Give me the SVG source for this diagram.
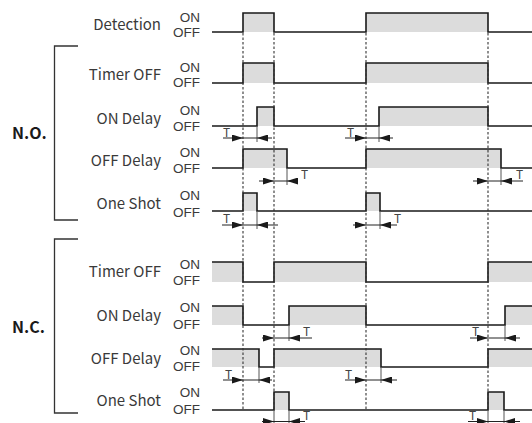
<svg xmlns="http://www.w3.org/2000/svg" width="532" height="423" viewBox="0 0 532 423">
<style>
text{font-family:"Noto Sans CJK KR","Noto Sans",sans-serif;fill:#3a3a3a}
.lbl{font-size:15px;text-anchor:end}
.st{font-family:"Liberation Sans",Arial,sans-serif;font-size:13.5px;text-anchor:end}
.grp{font-size:16px;font-weight:bold;fill:#1a1a1a}
.tl{font-size:12px;fill:#444}
.hi{fill:#dcdcdc}
.wave{fill:none;stroke:#1a1a1a;stroke-width:1.6}
.br{fill:none;stroke:#333;stroke-width:1.3}
.dash{stroke:#333;stroke-width:1.1;stroke-dasharray:2.5 2;fill:none}
.dim{stroke:#222;stroke-width:1;fill:none}
.arr{stroke:#222;stroke-width:1;fill:none;marker-end:url(#ah)}
.ext{stroke:#555;stroke-width:1;fill:none}
</style>
<defs>
<marker id="ah" viewBox="0 0 11 7" refX="11" refY="3.5" markerWidth="11" markerHeight="7" markerUnits="userSpaceOnUse" orient="auto">
<path d="M0,0 L11,3.5 L0,7 z" fill="#1a1a1a"/>
</marker>
</defs>

<g id="bracket-no">
<path class="br" d="M78,46 H54.5 V220 H78"/>
<text class="grp" x="12" y="138.5">N.O.</text>
</g>
<g id="bracket-nc">
<path class="br" d="M78,239 H54.5 V413 H78"/>
<text class="grp" x="12" y="333">N.C.</text>
</g>

<g id="row-detection">
<text class="lbl" x="161" y="29.5">Detection</text>
<text class="st" x="200" y="21.5">ON</text>
<text class="st" x="200" y="37">OFF</text>
<rect class="hi" x="243" y="13" width="31" height="19"/>
<rect class="hi" x="366" y="13" width="122" height="19"/>
<path class="wave" d="M212,32 H243 V13 H274 V32 H366 V13 H488 V32 H532"/>
</g>

<g id="row-no-timer-off">
<text class="lbl" x="161" y="80">Timer OFF</text>
<text class="st" x="200" y="71.5">ON</text>
<text class="st" x="200" y="87">OFF</text>
<rect class="hi" x="243" y="63" width="31" height="20"/>
<rect class="hi" x="366" y="63" width="122" height="20"/>
<path class="wave" d="M212,83 H243 V63 H274 V83 H366 V63 H488 V83 H532"/>
</g>

<g id="row-no-on-delay">
<text class="lbl" x="161" y="124">ON Delay</text>
<text class="st" x="200" y="115">ON</text>
<text class="st" x="200" y="131">OFF</text>
<rect class="hi" x="257" y="107" width="17" height="19"/>
<rect class="hi" x="379" y="107" width="109" height="19"/>
<path class="wave" d="M212,126 H257 V107 H274 V126 H379 V107 H488 V126 H532"/>
</g>

<g id="row-no-off-delay">
<text class="lbl" x="161" y="166">OFF Delay</text>
<text class="st" x="200" y="157">ON</text>
<text class="st" x="200" y="173">OFF</text>
<rect class="hi" x="243" y="149" width="44" height="19"/>
<rect class="hi" x="366" y="149" width="135" height="19"/>
<path class="wave" d="M212,168 H243 V149 H287 V168 H366 V149 H501 V168 H532"/>
</g>

<g id="row-no-one-shot">
<text class="lbl" x="161" y="209">One Shot</text>
<text class="st" x="200" y="200">ON</text>
<text class="st" x="200" y="216.5">OFF</text>
<rect class="hi" x="243" y="193" width="14" height="18"/>
<rect class="hi" x="366" y="193" width="14" height="18"/>
<path class="wave" d="M212,211 H243 V193 H257 V211 H366 V193 H380 V211 H532"/>
</g>

<g id="row-nc-timer-off">
<text class="lbl" x="161" y="277">Timer OFF</text>
<text class="st" x="200" y="268.5">ON</text>
<text class="st" x="200" y="285">OFF</text>
<rect class="hi" x="212" y="262" width="31" height="20"/>
<rect class="hi" x="274" y="262" width="92" height="20"/>
<rect class="hi" x="488" y="262" width="44" height="20"/>
<path class="wave" d="M212,262 H243 V282 H274 V262 H366 V282 H488 V262 H532"/>
</g>

<g id="row-nc-on-delay">
<text class="lbl" x="161" y="321">ON Delay</text>
<text class="st" x="200" y="312">ON</text>
<text class="st" x="200" y="328.5">OFF</text>
<rect class="hi" x="212" y="306" width="31" height="19"/>
<rect class="hi" x="289" y="306" width="77" height="19"/>
<rect class="hi" x="505" y="306" width="27" height="19"/>
<path class="wave" d="M212,306 H243 V325 H289 V306 H366 V325 H505 V306 H532"/>
</g>

<g id="row-nc-off-delay">
<text class="lbl" x="161" y="363.5">OFF Delay</text>
<text class="st" x="200" y="355">ON</text>
<text class="st" x="200" y="370.5">OFF</text>
<rect class="hi" x="212" y="349" width="47" height="18"/>
<rect class="hi" x="274" y="349" width="107" height="18"/>
<rect class="hi" x="488" y="349" width="44" height="18"/>
<path class="wave" d="M212,349 H259 V367 H274 V349 H381 V367 H488 V349 H532"/>
</g>

<g id="row-nc-one-shot">
<text class="lbl" x="161" y="406">One Shot</text>
<text class="st" x="200" y="397">ON</text>
<text class="st" x="200" y="414">OFF</text>
<rect class="hi" x="274" y="392" width="15" height="18"/>
<rect class="hi" x="488" y="392" width="16" height="18"/>
<path class="wave" d="M212,410 H274 V392 H289 V410 H488 V392 H504 V410 H532"/>
</g>

<g id="connectors">
<path class="dash" d="M243,33 V410 M274,33 V410 M366,33 V410 M488,33 V410"/>
<path class="ext" d="M257,126 V142 M379,126 V142 M287,168 V185 M501,168 V185 M257,211 V229 M380,211 V229 M289,325 V341 M505,325 V341 M259,367 V383 M381,367 V383 M289,410 V423 M504,410 V423 M274,410 V423 M488,410 V423"/>
<path class="arr" d="M223,138 H243"/><path class="arr" d="M272,138 H257"/><path class="dim" d="M243,138 H257"/>
<path class="arr" d="M345,138 H366"/><path class="arr" d="M393,138 H379"/><path class="dim" d="M366,138 H379"/>
<path class="arr" d="M259,181 H274"/><path class="arr" d="M298,181 H287"/><path class="dim" d="M274,181 H287"/>
<path class="arr" d="M473,181 H488"/><path class="arr" d="M523,181 H501"/><path class="dim" d="M488,181 H501"/>
<path class="arr" d="M222,225 H243"/><path class="arr" d="M278,225 H257"/><path class="dim" d="M243,225 H257"/>
<path class="arr" d="M353,225 H366"/><path class="arr" d="M397,225 H380"/><path class="dim" d="M366,225 H380"/>
<path class="arr" d="M262,338 H274"/><path class="arr" d="M312,338 H289"/><path class="dim" d="M274,338 H289"/>
<path class="arr" d="M470,338 H488"/><path class="arr" d="M520,338 H505"/><path class="dim" d="M488,338 H505"/>
<path class="arr" d="M223,380 H243"/><path class="arr" d="M272,380 H259"/><path class="dim" d="M243,380 H259"/>
<path class="arr" d="M345,380 H366"/><path class="arr" d="M397,380 H381"/><path class="dim" d="M366,380 H381"/>
<path class="arr" d="M262,421.5 H274"/><path class="arr" d="M305,421.5 H289"/><path class="dim" d="M274,421.5 H289"/>
<path class="arr" d="M468,421.5 H488"/><path class="arr" d="M520,421.5 H504"/><path class="dim" d="M488,421.5 H504"/>
<text class="tl" x="223" y="136.5">T</text>
<text class="tl" x="347" y="136.5">T</text>
<text class="tl" x="301" y="178.5">T</text>
<text class="tl" x="516" y="178.5">T</text>
<text class="tl" x="223" y="223">T</text>
<text class="tl" x="394" y="223">T</text>
<text class="tl" x="303" y="336">T</text>
<text class="tl" x="472" y="336">T</text>
<text class="tl" x="225" y="378.5">T</text>
<text class="tl" x="345" y="378.5">T</text>
<text class="tl" x="303" y="420">T</text>
<text class="tl" x="469" y="420">T</text>
</g>
</svg>
